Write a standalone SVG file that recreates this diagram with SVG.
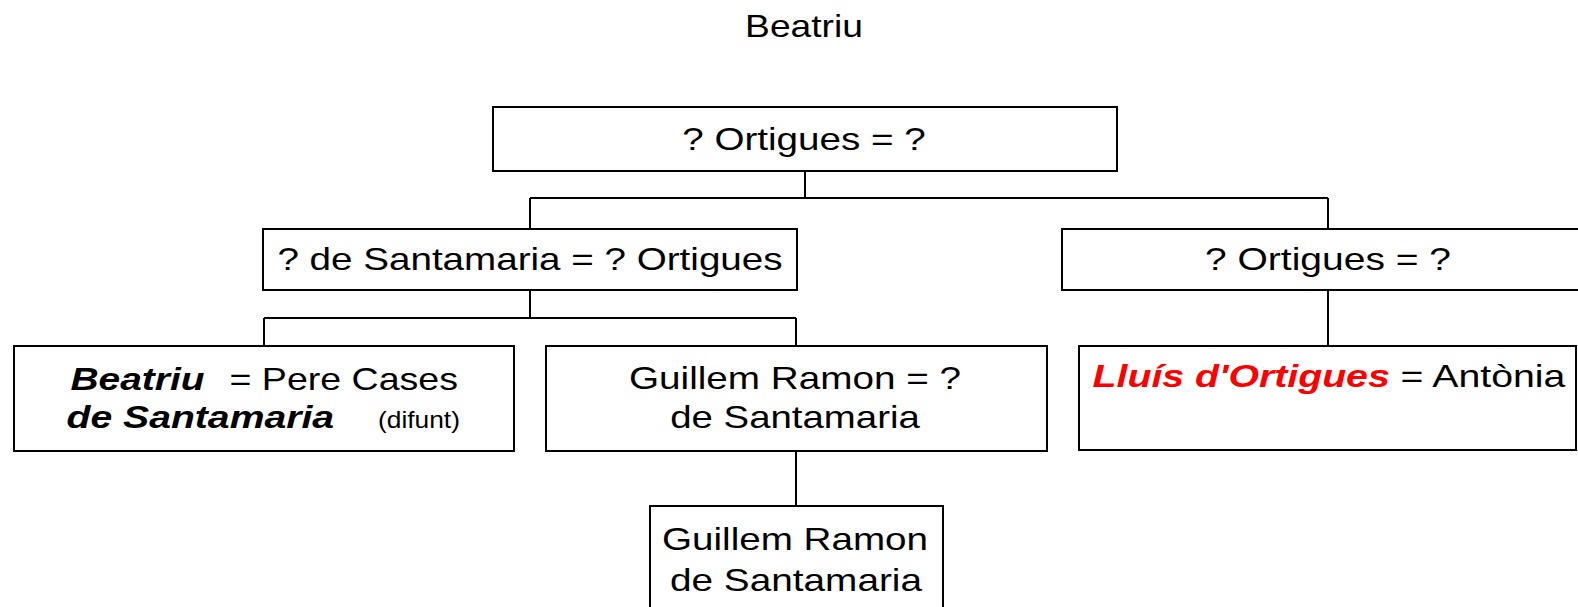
<svg xmlns="http://www.w3.org/2000/svg" width="1578" height="607" viewBox="0 0 1578 607">
<style>
  .box { fill: #fff; stroke: #000; stroke-width: 2; }
  .conn path { fill: none; stroke: #000; stroke-width: 2; }
  text { font-family: "Liberation Sans", Arial, sans-serif; font-size: 32px; fill: #000; }
  .bi { font-weight: bold; font-style: italic; }
  .red { fill: #ff0000; }
  .small { font-size: 23px; }
</style>
<rect width="1578" height="607" fill="#fff"/>
<text id="title" style="font-size:31px" transform="translate(804,37) scale(1.2,1)" text-anchor="middle">Beatriu</text>
<g class="conn">
  <path d="M805 171 V198 M530 198 H1328 M530 198 V229 M1328 198 V229"/>
  <path d="M530 290 V318 M264 318 H796 M264 318 V346 M796 318 V346"/>
  <path d="M1328 290 V346"/>
  <path d="M796 451 V506"/>
</g>
<g id="n-top">
  <rect class="box" x="493" y="107" width="624" height="64"/>
  <text transform="translate(804,150) scale(1.2,1)" text-anchor="middle" textLength="203" lengthAdjust="spacingAndGlyphs">? Ortigues = ?</text>
</g>
<g id="n-santamaria">
  <rect class="box" x="263" y="229" width="534" height="61"/>
  <text transform="translate(530,270) scale(1.2,1)" text-anchor="middle" textLength="421" lengthAdjust="spacingAndGlyphs">? de Santamaria = ? Ortigues</text>
</g>
<g id="n-ortigues">
  <rect class="box" x="1062" y="229" width="560" height="61"/>
  <text transform="translate(1328,270) scale(1.2,1)" text-anchor="middle" textLength="205" lengthAdjust="spacingAndGlyphs">? Ortigues = ?</text>
</g>
<g id="n-beatriu">
  <rect class="box" x="14" y="346" width="500" height="105"/>
  <text class="bi" transform="translate(70.5,390) scale(1.2,1)" textLength="111.7" lengthAdjust="spacingAndGlyphs">Beatriu</text>
  <text transform="translate(229.5,390) scale(1.2,1)" textLength="190.4" lengthAdjust="spacingAndGlyphs">= Pere Cases</text>
  <text class="bi" transform="translate(66.5,428) scale(1.2,1)" textLength="223" lengthAdjust="spacingAndGlyphs">de Santamaria</text>
  <text class="small" transform="translate(378,428) scale(1.2,1)" textLength="68.3" lengthAdjust="spacingAndGlyphs">(difunt)</text>
</g>
<g id="n-guillem">
  <rect class="box" x="546" y="346" width="501" height="105"/>
  <text transform="translate(795,389) scale(1.2,1)" text-anchor="middle" textLength="276.7" lengthAdjust="spacingAndGlyphs">Guillem Ramon = ?</text>
  <text transform="translate(795,428) scale(1.2,1)" text-anchor="middle" textLength="208" lengthAdjust="spacingAndGlyphs">de Santamaria</text>
</g>
<g id="n-lluis">
  <rect class="box" x="1079" y="346" width="497" height="104"/>
  <text transform="translate(1329,387) scale(1.2,1)" text-anchor="middle" textLength="394" lengthAdjust="spacingAndGlyphs"><tspan class="bi red">Lluís d'Ortigues</tspan> = Antònia</text>
</g>
<g id="n-guillem2">
  <rect class="box" x="650" y="506" width="293" height="120"/>
  <text transform="translate(795,550) scale(1.2,1)" text-anchor="middle" textLength="221.7" lengthAdjust="spacingAndGlyphs">Guillem Ramon</text>
  <text transform="translate(796,591) scale(1.2,1)" text-anchor="middle" textLength="210" lengthAdjust="spacingAndGlyphs">de Santamaria</text>
</g>
</svg>
